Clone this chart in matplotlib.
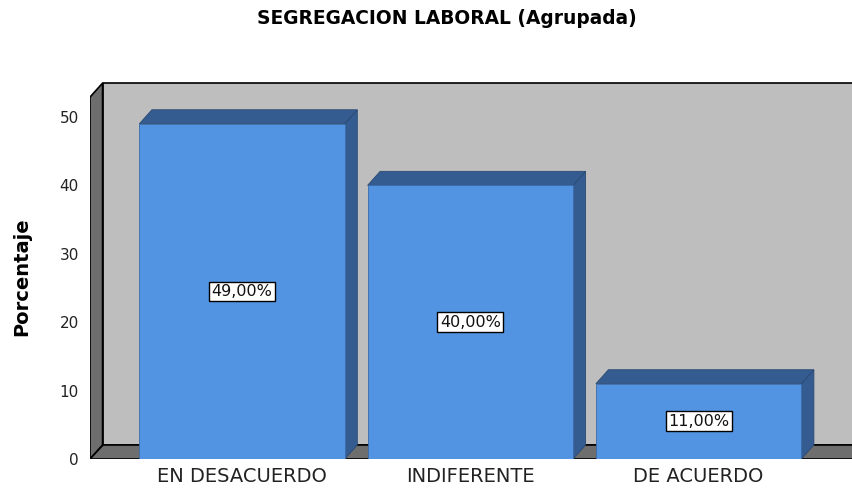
import matplotlib
matplotlib.use("Agg")
import matplotlib.pyplot as plt
from matplotlib.patches import Polygon

# data
categorias = ["EN DESACUERDO", "INDIFERENTE", "DE ACUERDO"]
porcentaje = [49.0, 40.0, 11.0]
yticks = [0, 10, 20, 30, 40, 50]

plt.rcParams['font.family'] = ['DejaVu Sans']

fig = plt.figure(figsize=(8.52, 4.88), dpi=100)
ax = fig.add_axes([90 / 852, 29 / 488, 762 / 852, 378.3 / 488])
ax.set_xlim(-0.666, 2.672)
ax.set_ylim(0, 55.3)
for s in ax.spines.values():
    s.set_visible(False)
ax.patch.set_visible(False)

# 3d offsets (data units)
dx = 0.055
dy = 2.05
x0 = -0.666
xr = 3.5
H = 52.9
w = 0.9

frente = "#5394E2"
oscuro = "#345C91"
gris = "#6E6E6E"
fondo = "#BEBEBE"

# walls and floor
ax.add_patch(Polygon([(x0 + dx, dy), (xr, dy), (xr, H + dy), (x0 + dx, H + dy)],
                     closed=True, facecolor=fondo, edgecolor="black", lw=1.2, zorder=1))
ax.add_patch(Polygon([(x0, 0), (x0 + dx, dy), (x0 + dx, H + dy), (x0, H)],
                     closed=True, facecolor=gris, edgecolor="black", lw=1.2, zorder=2))
ax.add_patch(Polygon([(x0, 0), (xr, 0), (xr, dy), (x0 + dx, dy)],
                     closed=True, facecolor=gris, edgecolor="black", lw=1.2, zorder=2))

# bars
for i, v in enumerate(porcentaje):
    l = i - w / 2
    r = i + w / 2
    ax.add_patch(Polygon([(r, 0), (r + dx, dy), (r + dx, v + dy), (r, v)],
                         closed=True, facecolor=oscuro, edgecolor="#2B4A73", lw=0.6, zorder=3))
    ax.add_patch(Polygon([(l, v), (r, v), (r + dx, v + dy), (l + dx, v + dy)],
                         closed=True, facecolor=oscuro, edgecolor="#2B4A73", lw=0.6, zorder=3))
    ax.bar(i, v, width=w, color=frente, edgecolor="#3A6AA8", linewidth=0.6, zorder=4)
    etiqueta = f"{v:.2f}".replace(".", ",") + "%"
    ax.text(i, v / 2, etiqueta, ha="center", va="center", fontsize=11.5, zorder=5, color="#111111",
            bbox=dict(boxstyle="square,pad=0.15", facecolor="white", edgecolor="black", lw=1))

ax.set_yticks(yticks)
ax.set_yticklabels([str(t) for t in yticks], fontsize=11, color="#222222")
ax.set_xticks(range(len(categorias)))
ax.set_xticklabels(categorias, fontsize=14, color="#222222")
ax.tick_params(axis="y", length=0, pad=8)
ax.tick_params(axis="x", length=0, pad=6)

fig.text(22 / 852, 1 - 277 / 488, "Porcentaje", rotation=90, ha="center", va="center",
         fontsize=14, fontweight="bold")
fig.text(447 / 852, 1 - 18 / 488, "SEGREGACION LABORAL (Agrupada)", ha="center", va="center",
         fontsize=13.4, fontweight="bold")

fig.savefig("out.png", dpi=100)
